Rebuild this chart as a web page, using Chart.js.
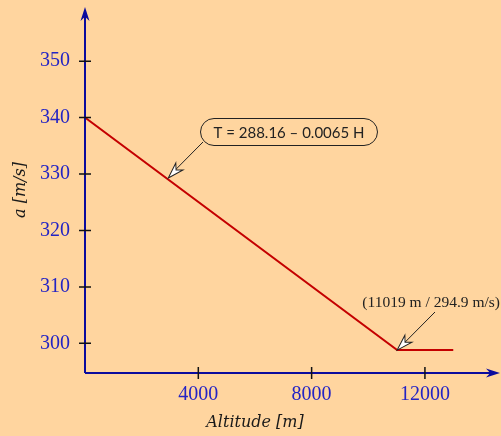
<!DOCTYPE html>
<html>
<head>
<meta charset="utf-8">
<script src="https://cdn.jsdelivr.net/npm/chart.js@4"></script>
<style>
  html, body { margin: 0; padding: 0; background: #FFD59F; }
  #wrap { width: 501px; height: 436px; }
</style>
</head>
<body>
<div id="wrap"><canvas id="soundChart"></canvas></div>
<script>
// data
const altitudes = [0, 11019, 13000];
const soundSpeed = [340.0, 298.8, 298.8];
const xTickValues = [4000, 8000, 12000];
const yTickValues = [300, 310, 320, 330, 340, 350];
const notes = [
  { text: 'T = 288.16 \u2013 0.0065 H', x: 2940, y: 329.3 },
  { text: '(11019 m / 294.9 m/s)', x: 11019, y: 298.8 }
];

const axisBlue = '#0B0B9E';
const labelBlue = '#2424C4';

function arrowHead(ctx, x0, y0, x1, y1, len, half, fill, stroke) {
  const a = Math.atan2(y1 - y0, x1 - x0);
  ctx.save();
  ctx.translate(x1, y1);
  ctx.rotate(a);
  ctx.beginPath();
  ctx.moveTo(0, 0);
  ctx.lineTo(-len, -half);
  ctx.lineTo(-len * 0.7, 0);
  ctx.lineTo(-len, half);
  ctx.closePath();
  ctx.fillStyle = fill;
  ctx.fill();
  if (stroke) {
    ctx.strokeStyle = stroke;
    ctx.lineWidth = 1;
    ctx.stroke();
  }
  ctx.restore();
}

const axesPlugin = {
  id: 'axesPlugin',
  afterDraw(chart) {
    const ctx = chart.ctx;
    const xs = chart.scales.x, ys = chart.scales.y;
    const area = chart.chartArea;
    const ox = xs.getPixelForValue(0);
    const oy = ys.getPixelForValue(ys.min);

    // axes
    ctx.save();
    ctx.strokeStyle = axisBlue;
    ctx.lineWidth = 2;
    ctx.beginPath();
    ctx.moveTo(ox, oy);
    ctx.lineTo(area.right - 8, oy);
    ctx.moveTo(ox, oy);
    ctx.lineTo(ox, area.top + 8);
    ctx.stroke();
    arrowHead(ctx, ox, oy, area.right, oy, 14, 4.5, axisBlue);
    arrowHead(ctx, ox, oy, ox, area.top, 14, 4.5, axisBlue);

    // tick marks across the axes
    ctx.strokeStyle = '#111';
    ctx.lineWidth = 1.5;
    ctx.beginPath();
    xTickValues.forEach(v => {
      const px = xs.getPixelForValue(v);
      ctx.moveTo(px, oy - 6);
      ctx.lineTo(px, oy + 6);
    });
    yTickValues.forEach(v => {
      const py = ys.getPixelForValue(v);
      ctx.moveTo(ox - 6, py);
      ctx.lineTo(ox + 6, py);
    });
    ctx.stroke();

    // axis titles
    ctx.fillStyle = '#1a1a1a';
    ctx.font = 'italic 16px "DejaVu Serif"';
    ctx.textAlign = 'center';
    ctx.textBaseline = 'middle';
    ctx.fillText('Altitude [m]', 255, 423);
    ctx.save();
    ctx.translate(21, 190);
    ctx.rotate(-Math.PI / 2);
    ctx.fillText('a [m/s]', 0, 0);
    ctx.restore();

    // annotation 1: boxed formula
    const n1 = notes[0];
    const t1x = xs.getPixelForValue(n1.x), t1y = ys.getPixelForValue(n1.y);
    ctx.font = '15px Lato';
    const cx = 289, cy = 132;
    const w = ctx.measureText(n1.text).width + 26, h = 27;
    ctx.beginPath();
    ctx.roundRect(cx - w / 2, cy - h / 2, w, h, h / 2);
    ctx.strokeStyle = '#222';
    ctx.lineWidth = 1;
    ctx.stroke();
    ctx.fillStyle = '#222';
    ctx.fillText(n1.text, cx, cy + 1);
    ctx.beginPath();
    ctx.moveTo(203, 142);
    ctx.lineTo(t1x + 8, t1y - 9);
    ctx.stroke();
    arrowHead(ctx, 203, 142, t1x, t1y, 16, 5, '#fff', '#222');

    // annotation 2: tropopause point
    const n2 = notes[1];
    const t2x = xs.getPixelForValue(n2.x), t2y = ys.getPixelForValue(n2.y);
    ctx.font = '15.5px "Liberation Serif"';
    ctx.textAlign = 'right';
    ctx.fillStyle = '#222';
    ctx.fillText(n2.text, 500, 303);
    ctx.beginPath();
    ctx.moveTo(435, 312);
    ctx.lineTo(t2x + 8, t2y - 8);
    ctx.stroke();
    arrowHead(ctx, 435, 312, t2x, t2y, 16, 5, '#fff', '#222');
    ctx.restore();
  }
};

const ctx = document.getElementById('soundChart').getContext('2d');

const soundChart = new Chart(ctx, {
  type: 'line',
  data: {
    datasets: [{
      data: altitudes.map((a, i) => ({ x: a, y: soundSpeed[i] })),
      borderColor: '#C40000',
      borderWidth: 2,
      pointRadius: 0,
      tension: 0,
      fill: false
    }]
  },
  options: {
    responsive: true,
    maintainAspectRatio: false,
    animation: false,
    layout: { padding: { top: 7, right: 1, left: 0, bottom: 0 } },
    scales: {
      x: {
        type: 'linear',
        min: 0,
        max: 14650,
        afterBuildTicks: s => { s.ticks = xTickValues.map(v => ({ value: v })); },
        afterFit: s => { s.height = 63; s.paddingLeft = 0; s.paddingRight = 0; },
        grid: { display: false, drawTicks: false },
        border: { display: false },
        ticks: {
          color: labelBlue,
          padding: 10,
          maxRotation: 0,
          callback: v => String(v),
          font: { family: 'Liberation Serif', size: 20 }
        }
      },
      y: {
        type: 'linear',
        min: 294.74,
        max: 359.6,
        afterBuildTicks: s => { s.ticks = yTickValues.map(v => ({ value: v })); },
        afterFit: s => { s.width = 85; s.paddingTop = 0; s.paddingBottom = 0; },
        grid: { display: false, drawTicks: false },
        border: { display: false },
        ticks: {
          color: labelBlue,
          padding: 15,
          callback: v => String(v),
          font: { family: 'Liberation Serif', size: 20 }
        }
      }
    },
    plugins: {
      legend: { display: false },
      tooltip: { enabled: false }
    }
  },
  plugins: [axesPlugin]
});
</script>
</body>
</html>
